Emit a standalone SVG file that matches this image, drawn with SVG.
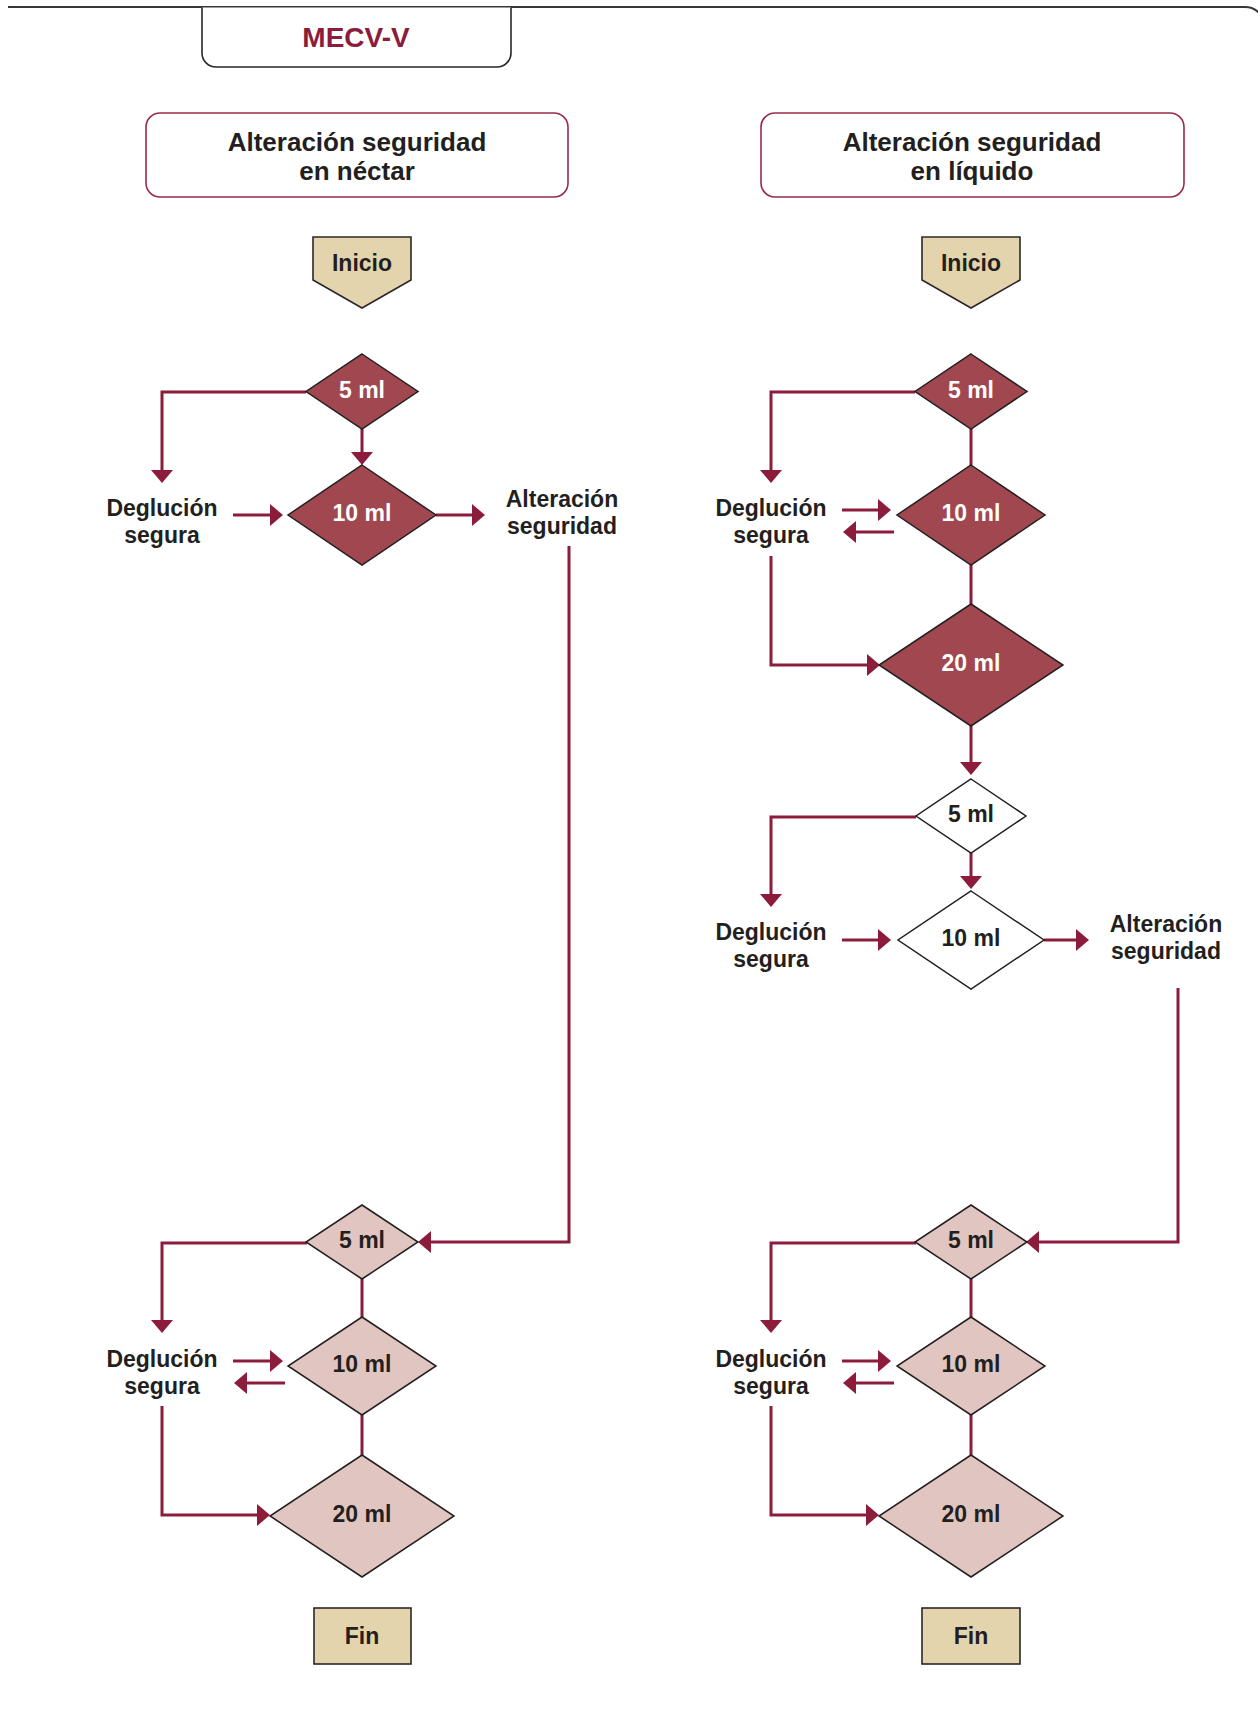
<svg xmlns="http://www.w3.org/2000/svg" width="1258" height="1731" viewBox="0 0 1258 1731">
  <defs>
    <style>
      .frame { fill: none; stroke: #3a3536; stroke-width: 2; }
      .tab { fill: #ffffff; stroke: #2b2728; stroke-width: 1.6; }
      .hdr { fill: #ffffff; stroke: #9a2b48; stroke-width: 1.6; }
      .term { fill: #e4d4ad; stroke: #2b2728; stroke-width: 1.6; }
      .dk { fill: #a0474f; stroke: #231f20; stroke-width: 1.5; }
      .lt { fill: #e1c5c1; stroke: #231f20; stroke-width: 1.5; }
      .wh { fill: #ffffff; stroke: #231f20; stroke-width: 1.5; }
      .conn { fill: none; stroke: #8c1c3b; stroke-width: 3; }
      .arr { marker-end: url(#head); }
      text { font-family: "Liberation Sans", Arial, sans-serif; font-weight: bold; text-anchor: middle; fill: #231f20; }
      .title { font-size: 28px; fill: #8c1c3b; }
      .h { font-size: 26px; }
      .lbl { font-size: 23px; }
      .inv { font-size: 23px; fill: #ffffff; }
    </style>
    <marker id="head" viewBox="0 0 13 22" markerWidth="13" markerHeight="22" refX="10" refY="11" orient="auto" markerUnits="userSpaceOnUse">
      <path d="M0,0 L13,11 L0,22 Z" fill="#8c1c3b"/>
    </marker>
  </defs>

  <!-- page frame and title tab -->
  <path class="frame" d="M8,7 H1245 A20,20 0 0 1 1265,27"/>
  <g id="title">
    <path class="tab" d="M202,7.5 V53 A14,14 0 0 0 216,67 H497 A14,14 0 0 0 511,53 V7.5"/>
    <text class="title" x="356" y="47">MECV-V</text>
  </g>

  <!-- column headers -->
  <g id="hdr-nectar">
    <rect class="hdr" x="146" y="113" width="422" height="84" rx="14"/>
    <text class="h" x="357" y="151">Alteración seguridad</text>
    <text class="h" x="357" y="180">en néctar</text>
  </g>
  <g id="hdr-liquido">
    <rect class="hdr" x="761" y="113" width="423" height="84" rx="14"/>
    <text class="h" x="972" y="151">Alteración seguridad</text>
    <text class="h" x="972" y="180">en líquido</text>
  </g>

  <!-- connectors -->
  <g id="connectors">
    <!-- left column, nectar -->
    <path class="conn arr" d="M306,392 H162 V480"/>
    <path class="conn arr" d="M362,429 V462"/>
    <path class="conn arr" d="M233,515 H280"/>
    <path class="conn arr" d="M436,515 H482"/>
    <path class="conn arr" d="M569,546 V1242 H421"/>
    <!-- left column, pudding -->
    <path class="conn arr" d="M307,1243 H162 V1330"/>
    <path class="conn" d="M362,1279 V1317"/>
    <path class="conn arr" d="M233,1361 H280"/>
    <path class="conn arr" d="M285,1383 H237"/>
    <path class="conn" d="M362,1415 V1455"/>
    <path class="conn arr" d="M162,1406 V1515 H267"/>

    <!-- right column, nectar -->
    <path class="conn arr" d="M915,392 H771 V480"/>
    <path class="conn" d="M971,429 V465"/>
    <path class="conn arr" d="M842,510 H888"/>
    <path class="conn arr" d="M894,532 H846"/>
    <path class="conn" d="M971,565 V604"/>
    <path class="conn arr" d="M771,556 V665 H877"/>
    <path class="conn arr" d="M971,726 V772"/>
    <!-- right column, liquid -->
    <path class="conn arr" d="M916,817 H771 V904"/>
    <path class="conn arr" d="M971,853 V886"/>
    <path class="conn arr" d="M842,940 H888"/>
    <path class="conn arr" d="M1044,940 H1086"/>
    <path class="conn arr" d="M1178,988 V1242 H1029"/>
    <!-- right column, pudding -->
    <path class="conn arr" d="M916,1243 H771 V1330"/>
    <path class="conn" d="M971,1279 V1317"/>
    <path class="conn arr" d="M842,1361 H888"/>
    <path class="conn arr" d="M894,1383 H846"/>
    <path class="conn" d="M971,1415 V1455"/>
    <path class="conn arr" d="M771,1406 V1515 H876"/>
  </g>

  <!-- left column nodes -->
  <g id="inicio-l">
    <polygon class="term" points="313,237 411,237 411,280 362,308 313,280"/>
    <text class="lbl" x="362" y="271">Inicio</text>
  </g>
  <g id="l-n5">
    <polygon class="dk" points="362,354 418,391.5 362,429 306,391.5"/>
    <text class="inv" x="362" y="398">5 ml</text>
  </g>
  <g id="l-n10">
    <polygon class="dk" points="362,465 436,515 362,565 288,515"/>
    <text class="inv" x="362" y="521">10 ml</text>
  </g>
  <g id="l-seg1">
    <text class="lbl" x="162" y="516">Deglución</text>
    <text class="lbl" x="162" y="543">segura</text>
  </g>
  <g id="l-alt">
    <text class="lbl" x="562" y="507">Alteración</text>
    <text class="lbl" x="562" y="534">seguridad</text>
  </g>
  <g id="l-p5">
    <polygon class="lt" points="362,1205 418,1242 362,1279 306,1242"/>
    <text class="lbl" x="362" y="1248">5 ml</text>
  </g>
  <g id="l-p10">
    <polygon class="lt" points="362,1317 436,1366 362,1415 288,1366"/>
    <text class="lbl" x="362" y="1372">10 ml</text>
  </g>
  <g id="l-p20">
    <polygon class="lt" points="362,1455 454,1516 362,1577 270,1516"/>
    <text class="lbl" x="362" y="1522">20 ml</text>
  </g>
  <g id="l-seg2">
    <text class="lbl" x="162" y="1367">Deglución</text>
    <text class="lbl" x="162" y="1394">segura</text>
  </g>
  <g id="fin-l">
    <rect class="term" x="314" y="1608" width="97" height="56"/>
    <text class="lbl" x="362" y="1644">Fin</text>
  </g>

  <!-- right column nodes -->
  <g id="inicio-r">
    <polygon class="term" points="922,237 1020,237 1020,280 971,308 922,280"/>
    <text class="lbl" x="971" y="271">Inicio</text>
  </g>
  <g id="r-n5">
    <polygon class="dk" points="971,354 1027,391.5 971,429 915,391.5"/>
    <text class="inv" x="971" y="398">5 ml</text>
  </g>
  <g id="r-n10">
    <polygon class="dk" points="971,465 1045,515 971,565 897,515"/>
    <text class="inv" x="971" y="521">10 ml</text>
  </g>
  <g id="r-n20">
    <polygon class="dk" points="971,604 1063,665 971,726 879,665"/>
    <text class="inv" x="971" y="671">20 ml</text>
  </g>
  <g id="r-seg1">
    <text class="lbl" x="771" y="516">Deglución</text>
    <text class="lbl" x="771" y="543">segura</text>
  </g>
  <g id="r-w5">
    <polygon class="wh" points="971,779 1026,816 971,853 916,816"/>
    <text class="lbl" x="971" y="822">5 ml</text>
  </g>
  <g id="r-w10">
    <polygon class="wh" points="971,891 1044,940 971,989 898,940"/>
    <text class="lbl" x="971" y="946">10 ml</text>
  </g>
  <g id="r-seg2">
    <text class="lbl" x="771" y="940">Deglución</text>
    <text class="lbl" x="771" y="967">segura</text>
  </g>
  <g id="r-alt">
    <text class="lbl" x="1166" y="932">Alteración</text>
    <text class="lbl" x="1166" y="959">seguridad</text>
  </g>
  <g id="r-p5">
    <polygon class="lt" points="971,1205 1027,1242 971,1279 915,1242"/>
    <text class="lbl" x="971" y="1248">5 ml</text>
  </g>
  <g id="r-p10">
    <polygon class="lt" points="971,1317 1045,1366 971,1415 897,1366"/>
    <text class="lbl" x="971" y="1372">10 ml</text>
  </g>
  <g id="r-p20">
    <polygon class="lt" points="971,1455 1063,1516 971,1577 879,1516"/>
    <text class="lbl" x="971" y="1522">20 ml</text>
  </g>
  <g id="r-seg3">
    <text class="lbl" x="771" y="1367">Deglución</text>
    <text class="lbl" x="771" y="1394">segura</text>
  </g>
  <g id="fin-r">
    <rect class="term" x="922" y="1608" width="98" height="56"/>
    <text class="lbl" x="971" y="1644">Fin</text>
  </g>
</svg>
